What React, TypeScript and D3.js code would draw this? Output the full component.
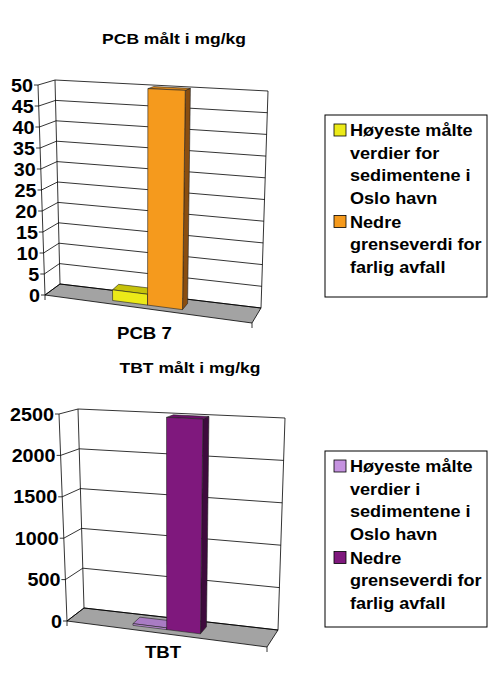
import React from "react";
import * as d3 from "d3";

// data
const pcbCategories = ["PCB 7"];
const pcbValues = [2.5, 50];
const pcbTicks = [0, 5, 10, 15, 20, 25, 30, 35, 40, 45, 50];

const tbtCategories = ["TBT"];
const tbtValues = [20, 2500];
const tbtTicks = [0, 500, 1000, 1500, 2000, 2500];

const pcbLegend = [
    ["Høyeste målte", "verdier for", "sedimentene i", "Oslo havn"],
    ["Nedre", "grenseverdi for", "farlig avfall"],
];
const tbtLegend = [
    ["Høyeste målte", "verdier i", "sedimentene i", "Oslo havn"],
    ["Nedre", "grenseverdi for", "farlig avfall"],
];

type Pt = [number, number];
type Quad = { bl: Pt; br: Pt; tl: Pt; tr: Pt };
type Frame = { front: Quad; back: Quad };

const FONT = "'Liberation Sans', Arial, sans-serif";

const lerp = (a: number, b: number, t: number) => a + (b - a) * t;
const lerpPt = (a: Pt, b: Pt, t: number): Pt => [lerp(a[0], b[0], t), lerp(a[1], b[1], t)];

// rough perspective: trilinear blend of the front and back planes
const makeProjector = (f: Frame) => (u: number, v: number, w: number): Pt => {
    const onQuad = (q: Quad) => lerpPt(lerpPt(q.bl, q.br, u), lerpPt(q.tl, q.tr, u), v);
    return lerpPt(onQuad(f.front), onQuad(f.back), w);
};

const poly = (pts: Pt[]) => (d3.line()(pts) || "") + "Z";

const Label = ({ x, y, anchor = "start", size = 16, children }: any) => (
    <text
        transform={`translate(${x},${y}) scale(1.13,1)`}
        textAnchor={anchor}
        fontSize={size}
        fontWeight="bold"
        fontFamily={FONT}
        fill="#000"
    >
        {children}
    </text>
);

type ChartProps = {
    title: string;
    titleX: number;
    titleY: number;
    categories: string[];
    values: number[];
    ticks: number[];
    frame: Frame;
    catLabelDy: number;
    colors: { front: string; top: string; side: string }[];
    legend: string[][];
    legendBox: { x: number; y: number; w: number; h: number };
};

const Chart3D = (p: ChartProps) => {
    const P = makeProjector(p.frame);
    const vScale = d3.scaleLinear().domain([0, d3.max(p.ticks) as number]).range([0, 1]);
    const catScale = d3.scaleBand().domain(p.categories).range([0, 1]).paddingOuter(0.97).align(0.47);
    const serScale = d3
        .scaleBand<number>()
        .domain(p.values.map((_, i) => i))
        .range([catScale(p.categories[0]) as number, (catScale(p.categories[0]) as number) + catScale.bandwidth()]);
    const depth: [number, number] = [0.26, 0.72];

    const floor = [P(0, 0, 0), P(1, 0, 0), P(1, 0, 1), P(0, 0, 1)];

    const bars = p.values.map((val, i) => {
        const u0 = serScale(i) as number;
        const u1 = u0 + serScale.bandwidth();
        const v = vScale(val);
        const [w0, w1] = depth;
        return {
            c: p.colors[i],
            front: [P(u0, 0, w0), P(u1, 0, w0), P(u1, v, w0), P(u0, v, w0)],
            top: [P(u0, v, w0), P(u1, v, w0), P(u1, v, w1), P(u0, v, w1)],
            side: [P(u1, 0, w0), P(u1, 0, w1), P(u1, v, w1), P(u1, v, w0)],
        };
    });

    const catPos = P((catScale(p.categories[0]) as number) + catScale.bandwidth() / 2, 0, 0);
    const lb = p.legendBox;
    let ly = lb.y + 21;

    return (
        <g>
            <Label x={p.titleX} y={p.titleY} anchor="middle" size={15.5}>
                {p.title}
            </Label>

            <path d={poly(floor)} fill="#a3a3a3" stroke="#000" strokeWidth={0.8} />

            {p.ticks.map((t) => {
                const v = vScale(t);
                const a = P(0, v, 0);
                const b = P(0, v, 1);
                const c = P(1, v, 1);
                return (
                    <g key={t}>
                        <line x1={a[0]} y1={a[1]} x2={b[0]} y2={b[1]} stroke="#000" strokeWidth={0.8} />
                        <line x1={b[0]} y1={b[1]} x2={c[0]} y2={c[1]} stroke="#000" strokeWidth={0.8} />
                        <line x1={a[0] - 4} y1={a[1]} x2={a[0]} y2={a[1]} stroke="#000" strokeWidth={0.8} />
                        <Label x={a[0] - 5} y={a[1] + 6.5} anchor="end" size={17.5}>
                            {t}
                        </Label>
                    </g>
                );
            })}

            {[
                [P(0, 0, 0), P(0, 1, 0)],
                [P(0, 0, 1), P(0, 1, 1)],
                [P(1, 0, 1), P(1, 1, 1)],
            ].map(([a, b], i) => (
                <line key={i} x1={a[0]} y1={a[1]} x2={b[0]} y2={b[1]} stroke="#000" strokeWidth={0.8} />
            ))}

            {[P(0, 0, 0), P(1, 0, 0)].map((a, i) => (
                <line key={i} x1={a[0]} y1={a[1]} x2={a[0]} y2={a[1] + 5} stroke="#000" strokeWidth={0.8} />
            ))}

            {bars.map((b, i) => (
                <g key={i} stroke="#222" strokeWidth={0.6} strokeLinejoin="round">
                    <path d={poly(b.side)} fill={b.c.side} />
                    <path d={poly(b.top)} fill={b.c.top} />
                    <path d={poly(b.front)} fill={b.c.front} />
                </g>
            ))}

            <Label x={catPos[0]} y={catPos[1] + p.catLabelDy} anchor="middle" size={16.5}>
                {p.categories[0]}
            </Label>

            <rect x={lb.x} y={lb.y} width={lb.w} height={lb.h} fill="#fff" stroke="#000" strokeWidth={1} />
            {p.legend.map((lines, i) => {
                const y0 = ly;
                ly += lines.length * 22.5 + 1.5;
                return (
                    <g key={i}>
                        <rect
                            x={lb.x + 9}
                            y={y0 - 12}
                            width={12}
                            height={12}
                            fill={p.colors[i].front}
                            stroke="#000"
                            strokeWidth={0.8}
                        />
                        {lines.map((s, j) => (
                            <Label key={j} x={lb.x + 25} y={y0 + j * 22.5} size={16}>
                                {s}
                            </Label>
                        ))}
                    </g>
                );
            })}
        </g>
    );
};

const pcbFrame: Frame = {
    front: { bl: [45, 295], br: [252, 323], tl: [38, 85], tr: [260, 95] },
    back: { bl: [60, 284], br: [261, 308], tl: [55, 80], tr: [268, 91] },
};
const tbtFrame: Frame = {
    front: { bl: [67, 621], br: [267, 647], tl: [59, 414], tr: [275, 424] },
    back: { bl: [84, 608], br: [278, 630], tl: [78, 409], tr: [285, 418] },
};

export default function App() {
    return (
        <svg
            width={500}
            height={687}
            viewBox="0 0 500 687"
            style={{ position: "absolute", left: 0, top: 0, background: "#fff" }}
        >
            <rect width={500} height={687} fill="#fff" />
            <Chart3D
                title="PCB målt i mg/kg"
                titleX={174}
                titleY={44}
                categories={pcbCategories}
                values={pcbValues}
                ticks={pcbTicks}
                frame={pcbFrame}
                catLabelDy={31}
                colors={[
                    { front: "#ecea18", top: "#c6c20a", side: "#a29e06" },
                    { front: "#f59a1d", top: "#d9861a", side: "#8a4e10" },
                ]}
                legend={pcbLegend}
                legendBox={{ x: 325, y: 115, w: 162, h: 182 }}
            />
            <Chart3D
                title="TBT målt i mg/kg"
                titleX={190}
                titleY={373}
                categories={tbtCategories}
                values={tbtValues}
                ticks={tbtTicks}
                frame={tbtFrame}
                catLabelDy={25}
                colors={[
                    { front: "#c592e0", top: "#a97cc4", side: "#8a5ea6" },
                    { front: "#7f187d", top: "#6a1068", side: "#3e0a3d" },
                ]}
                legend={tbtLegend}
                legendBox={{ x: 325, y: 451, w: 162, h: 176 }}
            />
        </svg>
    );
}
